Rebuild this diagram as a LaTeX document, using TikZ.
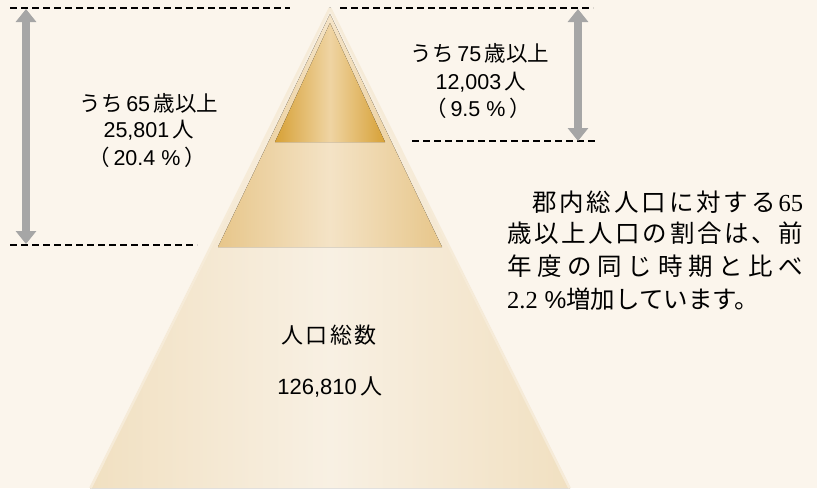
\documentclass[tikz,border=0pt]{standalone}
\usepackage{fontspec}
\setmainfont{Liberation Sans}
\newfontfamily\jp{Noto Sans CJK JP}
\newfontfamily\tm{Liberation Serif}
\usetikzlibrary{arrows.meta}
\definecolor{bg}{HTML}{FBF5EC}
\definecolor{rim}{HTML}{F6EBD8}
\definecolor{outE}{HTML}{F1E0C1}
\definecolor{outM}{HTML}{F8F0E3}
\definecolor{midE}{HTML}{E7C68A}
\definecolor{midM}{HTML}{F4E3C6}
\definecolor{topE}{HTML}{D7A136}
\definecolor{topM}{HTML}{EFD4A3}
\definecolor{arrowgray}{HTML}{A6A6A6}
\newcommand{\J}[1]{{\jp #1}}
\tikzset{
  guide/.style={draw=black, line width=2pt, dash pattern=on 7pt off 4pt},
  span/.style={draw=arrowgray, line width=8pt,
    {Triangle[width=20pt,length=13pt]}-{Triangle[width=20pt,length=13pt]}},
  lab/.style={inner sep=0pt, font=\fontsize{21.5}{25}\selectfont, text=black},
  big/.style={inner sep=0pt, font=\fontsize{22}{26}\selectfont, text=black},
  para/.style={inner sep=0pt, anchor=west, font=\fontsize{24.5}{28}\selectfont, text=black}
}
\begin{document}
\begin{tikzpicture}[x=1pt,y=-1pt]
\useasboundingbox (0,0) rectangle (817,488);
\fill[bg] (0,0) rectangle (817,488);

% pyramid
\fill[left color=outE, right color=outE, middle color=outM] (330,7) -- (90,488) -- (570,488) -- cycle;
\draw[rim, line width=2.5pt, line join=round] (330,8) -- (90.5,488) (330,8) -- (569.5,488);
\fill[left color=midE, right color=midE, middle color=midM] (330,14) -- (218,247) -- (442,247) -- cycle;
\fill[left color=topE, right color=topE, middle color=topM] (330,23) -- (275,142) -- (385,142) -- cycle;

% guide lines
\coordinate (g1a) at (10,8);   \coordinate (g1b) at (290,8);
\coordinate (g2a) at (340,8);  \coordinate (g2b) at (593,8);
\coordinate (g3a) at (10,245); \coordinate (g3b) at (197,245);
\coordinate (g4a) at (412,141);\coordinate (g4b) at (595,141);
\draw[guide] (g1a) -- (g1b);
\draw[guide] (g2a) -- (g2b);
\draw[guide] (g3a) -- (g3b);
\draw[guide] (g4a) -- (g4b);

% span arrows
\coordinate (s1t) at (26,9);   \coordinate (s1b) at (26,244);
\coordinate (s2t) at (578,9);  \coordinate (s2b) at (578,141);
\draw[span] (s1t) -- (s1b);
\draw[span] (s2t) -- (s2b);

% labels 65+
\node[lab] (a1) at (149,103) {\J{うち}\,65\,\J{歳以上}};
\node[lab] (a2) at (149,130) {25,801\,\J{人}};
\node[lab] (a3) at (147,157) {\J{（}\hspace{4pt}20.4 \%\hspace{4pt}\J{）}};

% labels 75+
\node[lab] (b1) at (480,53) {\J{うち}\,75\,\J{歳以上}};
\node[lab] (b2) at (481,82) {12,003\,\J{人}};
\node[lab] (b3) at (478,108) {\J{（}\hspace{4pt}9.5 \%\hspace{4pt}\J{）}};

% total
\node[big] (c1) at (329,335) {\makebox[96pt][s]{\J{人}\hfill\J{口}\hfill\J{総}\hfill\J{数}}};
\node[big] (c2) at (330,387) {126,810\,\J{人}};

% paragraph
\node[para] (p1) at (532,202) {\makebox[271pt][s]{\jp 郡\hfill 内\hfill 総\hfill 人\hfill 口\hfill に\hfill 対\hfill す\hfill る\hfill{\tm 65}}};
\node[para] (p2) at (507,233) {\makebox[296pt][s]{\jp 歳\hfill 以\hfill 上\hfill 人\hfill 口\hfill の\hfill 割\hfill 合\hfill は\hfill 、\hfill 前}};
\node[para] (p3) at (507,266) {\makebox[296pt][s]{\jp 年\hfill 度\hfill の\hfill 同\hfill じ\hfill 時\hfill 期\hfill と\hfill 比\hfill べ}};
\node[para] (p4) at (507,299) {{\tm 2.2} \%\J{増加しています。}};
\end{tikzpicture}
\end{document}
